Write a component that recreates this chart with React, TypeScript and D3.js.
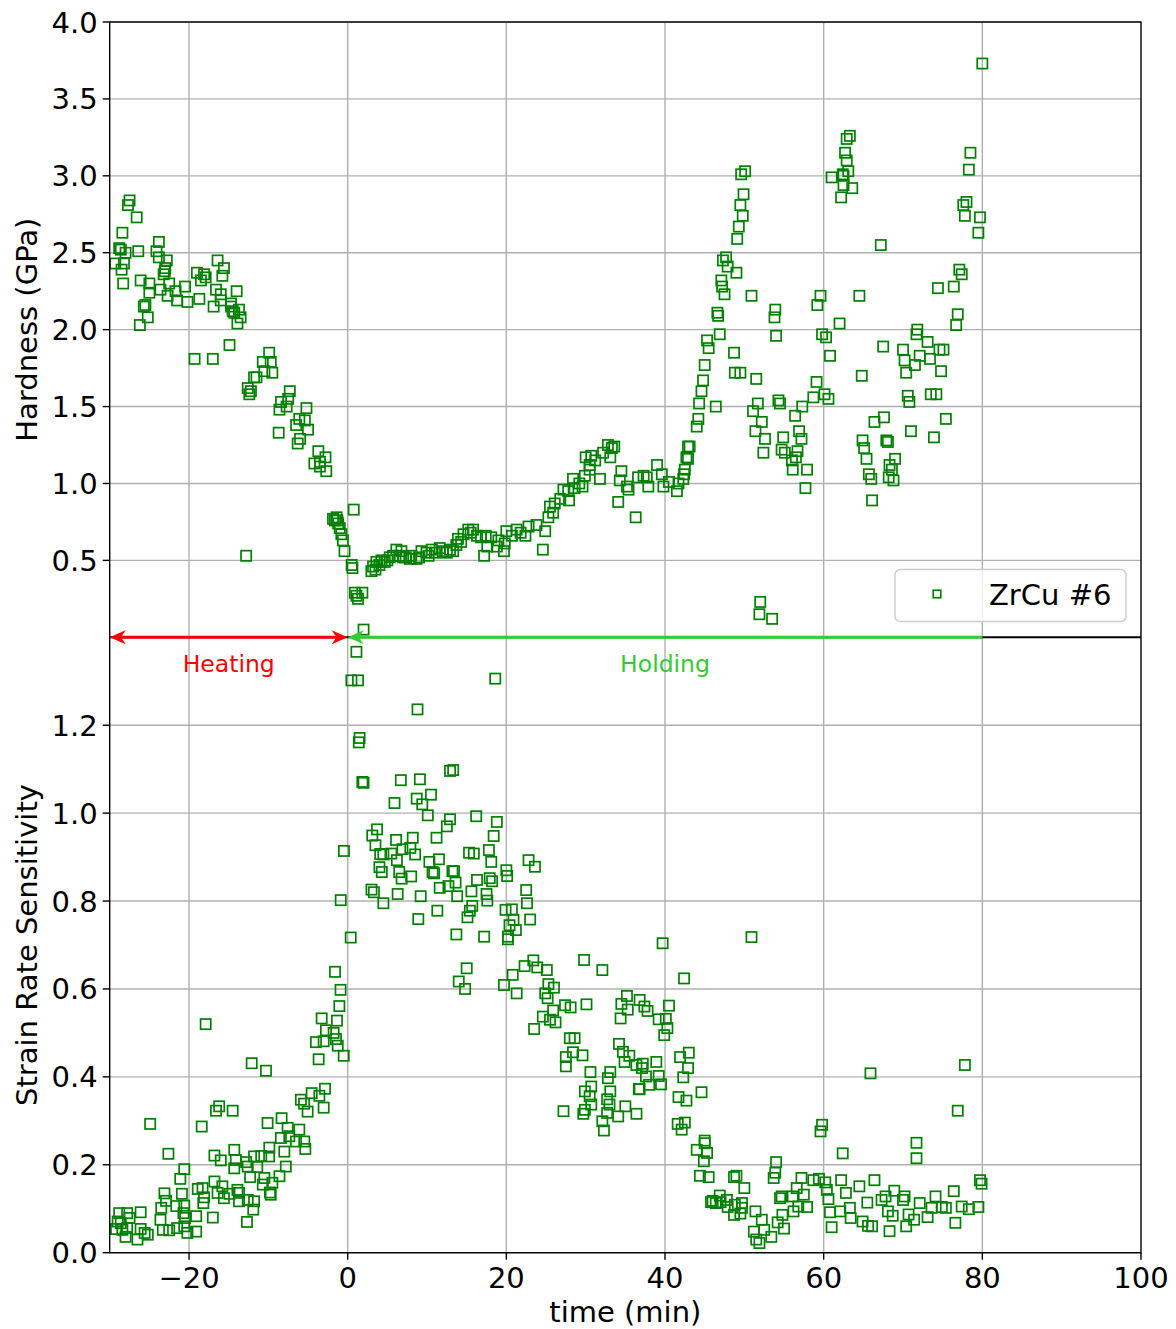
import React from "react";
import * as d3 from "d3";

// ---------- data ----------
const hardness: [number, number][] = [
  [-27.5,2.84],[-27.7,2.81],[-26.6,2.73],[-28.4,2.63],[-23.8,2.57],
  [-28.8,2.53],[-28.6,2.52],[-28.0,2.50],[-29.3,2.43],[-28.2,2.43],[-28.5,2.39],
  [-26.4,2.51],[-24.1,2.51],[-23.8,2.47],[-22.8,2.45],[-23.05,2.38],[-23.2,2.36],[-23.0,2.40],
  [-28.3,2.30],[-26.1,2.32],[-25.0,2.30],[-25.0,2.24],[-25.5,2.16],[-25.7,2.15],[-25.2,2.08],[-26.2,2.03],
  [-23.6,2.26],[-22.5,2.30],[-22.7,2.22],[-21.7,2.25],[-21.5,2.19],[-20.5,2.28],[-20.2,2.18],[-18.7,2.20],
  [-19.0,2.37],[-18.1,2.36],[-17.9,2.34],[-18.5,2.32],[-16.4,2.45],[-15.6,2.40],[-15.8,2.35],
  [-16.6,2.26],[-16.0,2.23],[-16.9,2.15],[-16.0,2.19],[-14.7,2.17],[-14.0,2.25],
  [-14.7,2.15],[-14.5,2.12],[-13.7,2.13],[-13.5,2.08],[-13.9,2.04],[-14.3,2.11],
  [-14.9,1.90],[-19.3,1.81],[-17.0,1.81],
  [-9.9,1.85],[-9.7,1.79],[-10.7,1.79],[-9.5,1.72],[-10.5,1.73],[-11.8,1.69],
  [-11.5,1.69],[-12.6,1.62],[-12.4,1.58],[-12.2,1.60],
  [-7.3,1.60],[-7.5,1.55],[-8.4,1.53],[-8.6,1.48],[-7.7,1.50],[-8.7,1.33],
  [-5.2,1.49],[-5.4,1.41],[-6.1,1.42],[-6.5,1.38],[-5.0,1.35],[-6.0,1.29],[-6.3,1.26],
  [-3.7,1.21],[-4.2,1.13],[-3.5,1.14],[-2.8,1.17],[-2.7,1.08],[-3.5,1.11],
  [-12.8,0.53],
  [-1.85,0.77],[-1.6,0.76],[-1.3,0.76],[-1.4,0.78],[-1.2,0.74],[-1.0,0.71],[-0.8,0.67],[-0.6,0.63],[-0.4,0.56],
  [0.76,0.83],[0.5,0.47],[0.6,0.45],[0.9,0.29],[1.1,0.27],[1.85,0.29],[1.3,0.25],[2.0,0.05],
  [2.99,0.43],[3.2,0.46],[3.62,0.49],[4.25,0.50],[4.67,0.49],[5.72,0.53],[6.14,0.57],[6.77,0.56],[6.98,0.52],
  [7.82,0.51],[8.67,0.51],[9.3,0.56],[9.93,0.55],[10.6,0.57],[11.6,0.58],[12.5,0.55],[13.3,0.56],[13.7,0.60],
  [13.9,0.64],[14.6,0.67],[15.2,0.70],[15.8,0.70],[16.3,0.66],[17.4,0.66],[17.6,0.59],[17.2,0.53],[18.1,0.65],
  [18.8,0.59],[19.8,0.61],[19.7,0.56],
  [3.5,0.44],[4.0,0.47],[5.0,0.50],[5.3,0.52],[6.5,0.53],[7.3,0.52],[8.0,0.53],[9.0,0.52],[10.2,0.53],
  [11.0,0.55],[12.0,0.56],[12.9,0.57],[14.3,0.62],[15.5,0.68],[16.8,0.65],[19.0,0.63],[20.7,0.66],[21.8,0.68],
  [20.0,0.69],[21.3,0.70],[22.4,0.66],[22.8,0.72],[23.8,0.73],[24.9,0.69],[24.6,0.57],[25.3,0.78],[25.5,0.85],
  [25.9,0.81],[26.1,0.87],[27.2,0.96],[27.9,0.89],[27.8,0.95],[28.4,1.03],[28.6,0.97],[29.6,0.98],[29.9,1.05],
  [30.0,1.17],[30.7,1.18],[30.5,1.12],[30.5,1.09],[31.8,1.03],[32.8,1.25],[33.3,1.23],[33.1,1.17],[34.1,0.88],
  [34.5,1.08],[34.3,1.02],[35.2,0.98],[35.4,0.96],[36.3,0.78],[36.6,1.04],[37.3,1.05],[37.9,0.98],[37.7,1.04],
  [39.0,1.12],[39.6,1.06],[39.8,0.98],[40.5,1.01],[41.5,0.95],[41.7,1.00],[42.3,1.03],[42.5,1.09],[42.9,1.16],
  [43.1,1.24],[44.0,1.37],[44.2,1.42],[44.3,1.52],
  [31.2,1.15],[32.2,1.20],[33.6,1.24],[29.2,1.00],[26.8,0.90],
  [42.9,1.24],[42.7,1.17],[42.4,1.06],
  [44.6,1.60],[44.8,1.67],[45.0,1.77],[45.3,1.93],[45.5,1.88],[46.4,1.50],[46.6,2.11],[46.7,2.09],[46.9,1.97],
  [47.1,2.32],[47.2,2.28],[47.5,2.23],[47.7,2.47],[47.3,2.45],[47.9,2.41],[49.0,2.37],[48.7,1.85],[48.8,1.72],
  [49.1,2.59],[49.3,2.67],[49.5,2.81],[49.8,2.74],[49.9,2.88],[49.6,3.01],[50.1,3.03],[50.9,2.22],[51.5,1.68],[49.5,1.72],
  [51.7,1.52],[51.1,1.47],[52.2,1.40],[51.4,1.34],[52.6,1.29],[52.4,1.20],[52.0,0.23],[51.9,0.15],[53.5,0.12],
  [53.9,2.13],[53.8,2.08],[54.0,1.96],[54.3,1.54],[54.5,1.52],[54.9,1.30],[54.7,1.22],[55.1,1.20],[56.4,1.44],
  [57.3,1.50],[56.9,1.34],[57.2,1.29],[56.7,1.21],[56.0,1.15],[56.5,1.17],[56.1,1.09],[57.9,1.09],[57.7,0.97],
  [59.1,1.66],[58.7,1.56],[60.1,1.58],[60.6,1.55],[59.6,2.22],[59.2,2.16],[59.8,1.97],[60.3,1.95],[60.8,1.83],[62.0,2.04],
  [61.0,2.99],[62.4,3.01],[62.5,2.94],[62.2,2.86],[62.7,3.15],[62.9,3.10],[63.3,3.26],[62.9,3.24],[63.1,3.03],[63.6,2.92],[62.5,3.00],
  [64.5,2.22],[64.8,1.70],[67.2,2.55],[67.5,1.89],
  [64.9,1.28],[65.1,1.23],[65.4,1.16],[65.7,1.06],[66.0,1.03],[66.1,0.89],[66.4,1.40],[67.6,1.43],[67.9,1.28],
  [68.1,1.27],[69.0,1.16],[68.3,1.12],[68.6,1.09],[68.2,1.04],[68.8,1.02],
  [70.0,1.87],[70.2,1.80],[70.4,1.72],[71.5,1.77],[71.8,2.00],[71.7,1.97],[72.1,1.83],[73.1,1.92],[73.4,1.81],
  [74.6,1.87],[75.1,1.87],[74.8,1.73],
  [70.6,1.57],[70.8,1.53],[73.5,1.58],[74.2,1.58],[75.4,1.42],[71.0,1.34],[73.9,1.30],
  [74.4,2.27],[76.4,2.28],[77.1,2.39],[77.4,2.36],[76.9,2.10],[76.7,2.03],
  [78.0,2.83],[77.6,2.81],[77.8,2.74],[79.7,2.73],[79.5,2.63],[78.5,3.15],[78.3,3.04],[80.0,3.73],
];

const strainRate: [number, number][] = [
  [-1.05,0.561],[-3.28,0.533],[-1.35,0.528],[-2.74,0.506],[-1.77,0.500],[-4.0,0.479],[-3.03,0.481],[-1.48,0.486],
  [-1.26,0.471],[-0.50,0.448],[-3.66,0.440],
  [-17.9,0.520],[-12.1,0.431],[-10.3,0.414],[-24.9,0.293],[-22.6,0.225],
  [-16.2,0.333],[-16.6,0.323],[-14.5,0.323],[-18.4,0.287],
  [-5.9,0.348],[-5.5,0.339],[-5.05,0.321],[-4.54,0.363],[-3.57,0.357],[-2.86,0.373],[-3.03,0.330],
  [-10.1,0.295],[-8.33,0.306],[-7.57,0.284],[-7.36,0.265],[-8.42,0.261],[-6.1,0.280],[-6.52,0.253],[-5.47,0.253],
  [-7.99,0.230],[-5.34,0.236],[-9.88,0.239],
  [-11.8,0.219],[-10.9,0.220],[-9.9,0.219],[-12.8,0.206],[-14.1,0.211],[-14.3,0.234],[-16.0,0.210],[-16.8,0.221],
  [-12.6,0.196],[-11.4,0.195],[-12.3,0.172],[-7.8,0.196],[-8.6,0.174],[-10.5,0.170],[-10.7,0.155],[-9.5,0.159],
  [-9.7,0.132],[-9.8,0.137],[-14.3,0.192],
  [-20.6,0.190],[-21.1,0.168],[-20.9,0.134],[-23.1,0.135],[-22.9,0.118],[-23.5,0.102],[-21.6,0.106],[-20.6,0.107],
  [-20.7,0.090],[-18.9,0.145],[-18.3,0.147],[-16.8,0.162],[-15.8,0.151],[-18.1,0.126],[-18.2,0.113],[-16.4,0.136],
  [-14.9,0.134],[-13.9,0.143],[-13.7,0.136],[-12.6,0.120],[-11.8,0.117],[-11.9,0.098],[-13.7,0.117],[-15.6,0.124],
  [-20.5,0.079],[-19.1,0.083],[-17.0,0.080],[-19.1,0.048],[-20.2,0.045],[-12.7,0.070],
  [-28.8,0.090],[-27.8,0.090],[-26.1,0.092],[-27.5,0.079],[-29.2,0.054],[-28.4,0.052],[-27.8,0.056],[-28.0,0.036],
  [-26.5,0.030],[-26.1,0.054],[-25.6,0.045],[-25.2,0.041],[-23.6,0.075],[-23.3,0.052],[-22.5,0.051],[-21.5,0.056],
  [-20.6,0.060],[-29.0,0.071],[-28.6,0.067],
  [-1.6,0.639],[-0.9,0.598],
  [1.1,1.367],[0.47,1.302],[1.3,1.302],[18.6,1.306],[8.8,1.236],[1.5,1.171],[1.4,1.161],[1.85,1.071],[2.0,1.069],
  [13.3,1.098],[12.9,1.096],
  [6.7,1.075],[9.1,1.077],[8.7,1.033],[10.5,1.042],[9.4,1.020],[5.9,1.023],[10.1,0.995],
  [-0.47,0.914],[-0.88,0.802],
  [3.7,0.963],[3.1,0.949],[3.5,0.927],[4.1,0.907],[6.1,0.939],[8.2,0.944],[7.9,0.921],[6.9,0.918],[8.5,0.906],
  [6.2,0.893],[5.5,0.908],[4.5,0.906],[4.0,0.877],[4.3,0.866],[6.5,0.866],[6.8,0.851],[8.0,0.856],[3.0,0.826],
  [3.3,0.820],[4.5,0.795],[6.3,0.816],[9.2,0.811],[8.9,0.759],[11.3,0.778],
  [10.3,0.889],[11.5,0.895],[10.7,0.866],[10.9,0.863],[11.2,0.944],[12.5,0.970],[12.9,0.986],[13.2,0.868],
  [13.4,0.868],[13.6,0.842],[12.7,0.834],[11.6,0.830],[15.3,0.910],[15.9,0.908],[16.2,0.993],[17.8,0.916],
  [18.1,0.889],[18.8,0.980],[18.4,0.948],[17.9,0.852],[18.2,0.845],[15.6,0.822],[16.3,0.848],[17.5,0.816],
  [17.6,0.801],[15.7,0.789],[15.4,0.778],[15.1,0.763],[13.7,0.724],[17.2,0.719],[13.8,0.811],
  [0.38,0.717],
  [20.2,0.719],[20.0,0.870],[20.1,0.857],[19.9,0.780],[20.7,0.781],[20.9,0.757],[21.2,0.734],[20.4,0.745],
  [22.5,0.825],[22.6,0.795],[23.0,0.758],[22.8,0.893],[23.6,0.878],[20.2,0.713],
  [15.0,0.647],[14.0,0.617],[14.8,0.600],
  [19.7,0.609],[20.8,0.632],[21.3,0.590],[22.3,0.652],[23.4,0.665],[23.9,0.649],[25.1,0.643],[25.3,0.611],
  [24.9,0.590],[26.0,0.603],[25.2,0.579],
  [29.8,0.666],[32.1,0.643],[39.7,0.704],[42.4,0.624],
  [24.6,0.537],[25.9,0.551],[26.2,0.524],[25.5,0.530],[23.5,0.509],[27.4,0.563],[28.1,0.558],[30.1,0.565],
  [28.0,0.488],[28.6,0.488],[28.4,0.456],[29.6,0.449],[27.5,0.445],[27.5,0.424],[30.6,0.411],[33.1,0.411],
  [32.8,0.397],[30.7,0.378],[29.9,0.367],[30.5,0.356],[30.7,0.337],[29.9,0.325],[29.7,0.316],[27.2,0.322],
  [32.7,0.349],[33.1,0.367],[33.0,0.337],[32.7,0.318],[32.1,0.299],[32.3,0.278],[34.1,0.310],[35.0,0.333],
  [36.4,0.316],[36.7,0.372],
  [34.5,0.566],[35.2,0.584],[35.3,0.553],[34.4,0.533],[36.8,0.575],[37.4,0.560],[37.8,0.550],[39.2,0.531],
  [40.1,0.532],[40.3,0.511],[39.9,0.495],[40.5,0.562],[34.2,0.475],[34.7,0.457],[35.5,0.448],[34.9,0.434],
  [36.4,0.427],[37.2,0.430],[38.9,0.434],[37.1,0.420],[37.6,0.401],[38.0,0.382],[39.2,0.402],[39.5,0.383],[36.8,0.372],
  [41.9,0.445],[43.0,0.455],[42.9,0.420],[42.3,0.399],[44.6,0.365],[41.7,0.354],[42.7,0.346],[41.6,0.293],
  [42.5,0.296],[42.1,0.280],[45.0,0.255],
  [45.0,0.249],[44.0,0.234],[45.3,0.227],[44.9,0.208],[44.4,0.175],[45.5,0.172],
  [49.0,0.175],[48.7,0.172],[50.0,0.147],[46.9,0.130],[46.4,0.113],[47.8,0.120],[47.9,0.104],[48.8,0.109],
  [48.7,0.086],[49.7,0.113],[49.7,0.102],[49.5,0.089],[45.8,0.115],[46.0,0.118],[47.0,0.115],
  [50.9,0.718],
  [54.0,0.206],[53.9,0.182],[53.7,0.170],[51.4,0.094],[52.2,0.075],[51.2,0.048],[51.5,0.030],[52.5,0.052],
  [53.4,0.036],[51.9,0.022],[55.0,0.055],[54.2,0.069],[54.8,0.086],[54.5,0.124],[54.7,0.128],[56.1,0.128],
  [56.6,0.147],[57.2,0.170],[57.5,0.132],[57.9,0.104],[56.8,0.105],[56.2,0.094],
  [58.7,0.165],[59.4,0.168],[60.2,0.160],[60.4,0.143],[60.6,0.122],[60.8,0.092],[61.0,0.058],[62.1,0.094],
  [62.2,0.165],[62.8,0.136],[63.3,0.102],[63.4,0.079],[64.5,0.151],[64.9,0.071],[65.6,0.061],[66.1,0.060],
  [65.5,0.114],[66.4,0.165],[67.3,0.120],[67.8,0.128],[68.3,0.049],[68.1,0.094],[68.7,0.084],[68.9,0.141],
  [70.2,0.128],[70.0,0.120],[70.4,0.060],[70.7,0.087],[71.4,0.075],[72.1,0.113],[73.1,0.081],[73.6,0.102],
  [74.1,0.128],[74.9,0.104],[75.4,0.102],[76.6,0.068],[76.4,0.140],[77.4,0.105],[78.3,0.099],[79.5,0.104],
  [79.7,0.165],[79.9,0.157],
  [71.7,0.250],[71.7,0.215],[76.9,0.323],[77.8,0.427],[65.9,0.408],[62.4,0.226],[59.8,0.291],[59.6,0.276],
];

const xTicks = [-20, 0, 20, 40, 60, 80, 100];
const hardTicks = [0.5, 1.0, 1.5, 2.0, 2.5, 3.0, 3.5, 4.0];
const srsTicks = [0.0, 0.2, 0.4, 0.6, 0.8, 1.0, 1.2];
const heatingSpan = [-30, 0];
const holdingSpan = [80, 0];
const seriesLabel = "ZrCu #6";

// ---------- layout ----------
const FONT = "DejaVu Sans, sans-serif";
const left = 109.7, right = 1141, top = 22, mid = 637.3, bottom = 1252.7;
const GREEN = "#008000";
const HOLD = "#33cc33";
const GRID = "#b0b0b0";

export default function App() {
  const x = d3.scaleLinear().domain([-30, 100]).range([left, right]);
  const yH = d3.scaleLinear().domain([0, 4]).range([mid, top]);
  const yS = d3.scaleLinear().domain([0, 1.4]).range([bottom, mid]);
  const m = 10.2;
  const fmt = d3.format(".1f");
  const fmtX = (v: number) => (v < 0 ? "\u2212" + Math.abs(v) : String(v));

  const sq = (cx: number, cy: number, k: string, s = m) => (
    <rect key={k} x={cx - s / 2} y={cy - s / 2} width={s} height={s} fill="none" stroke={GREEN} strokeWidth={1.7} />
  );

  const ay = yH(0);
  const hx0 = x(heatingSpan[0]), hx1 = x(heatingSpan[1]);
  const gx0 = x(holdingSpan[0]), gx1 = x(holdingSpan[1]);
  const head = 16, hw = 7;

  return (
    <svg width={1176} height={1329} style={{ display: "block", marginTop: -8, marginLeft: -8 }} fontFamily={FONT}>
      <rect width={1176} height={1329} fill="white" />
      {/* grid */}
      {xTicks.filter(t => t < 100).map(t => (
        <line key={"gx" + t} x1={x(t)} x2={x(t)} y1={top} y2={bottom} stroke={GRID} strokeWidth={1.4} />
      ))}
      {hardTicks.map(t => (
        <line key={"gh" + t} x1={left} x2={right} y1={yH(t)} y2={yH(t)} stroke={GRID} strokeWidth={1.4} />
      ))}
      {srsTicks.map(t => (
        <line key={"gs" + t} x1={left} x2={right} y1={yS(t)} y2={yS(t)} stroke={GRID} strokeWidth={1.4} />
      ))}
      {/* points */}
      {hardness.map((d, i) => sq(x(d[0]), yH(d[1]), "h" + i))}
      {strainRate.map((d, i) => sq(x(d[0]), yS(d[1]), "s" + i))}
      {/* spines */}
      <rect x={left} y={top} width={right - left} height={bottom - top} fill="none" stroke="black" strokeWidth={1.4} />
      <line x1={left} x2={right} y1={mid} y2={mid} stroke="black" strokeWidth={2} />
      {/* ticks */}
      {xTicks.map(t => (
        <g key={"tx" + t}>
          <line x1={x(t)} x2={x(t)} y1={bottom} y2={bottom + 7} stroke="black" strokeWidth={1.4} />
          <text x={x(t)} y={bottom + 35} textAnchor="middle" fontSize={29}>{fmtX(t)}</text>
        </g>
      ))}
      {hardTicks.map(t => (
        <g key={"th" + t}>
          <line x1={left - 7} x2={left} y1={yH(t)} y2={yH(t)} stroke="black" strokeWidth={1.4} />
          <text x={left - 12} y={yH(t) + 10.5} textAnchor="end" fontSize={29}>{fmt(t)}</text>
        </g>
      ))}
      {srsTicks.map(t => (
        <g key={"ts" + t}>
          <line x1={left - 7} x2={left} y1={yS(t)} y2={yS(t)} stroke="black" strokeWidth={1.4} />
          <text x={left - 12} y={yS(t) + 10.5} textAnchor="end" fontSize={29}>{fmt(t)}</text>
        </g>
      ))}
      {/* axis labels */}
      <text x={(left + right) / 2} y={1322} textAnchor="middle" fontSize={29}>time (min)</text>
      <text transform={`translate(37,${(top + mid) / 2}) rotate(-90)`} textAnchor="middle" fontSize={29}>Hardness (GPa)</text>
      <text transform={`translate(37,${(mid + bottom) / 2}) rotate(-90)`} textAnchor="middle" fontSize={29}>Strain Rate Sensitivity</text>
      {/* arrows */}
      <line x1={gx0} x2={gx1 + 6} y1={ay} y2={ay} stroke={HOLD} strokeWidth={3} />
      <path d={`M${gx1},${ay} L${gx1 + head},${ay - hw} L${gx1 + head * 0.7},${ay} L${gx1 + head},${ay + hw} Z`} fill={HOLD} />
      <line x1={hx0 + 6} x2={hx1 - 6} y1={ay} y2={ay} stroke="red" strokeWidth={3} />
      <path d={`M${hx0},${ay} L${hx0 + head},${ay - hw} L${hx0 + head * 0.7},${ay} L${hx0 + head},${ay + hw} Z`} fill="red" />
      <path d={`M${hx1},${ay} L${hx1 - head},${ay - hw} L${hx1 - head * 0.7},${ay} L${hx1 - head},${ay + hw} Z`} fill="red" />
      <text x={x((heatingSpan[0] + heatingSpan[1]) / 2)} y={672} textAnchor="middle" fontSize={23.5} fill="red">Heating</text>
      <text x={x((holdingSpan[0] + holdingSpan[1]) / 2)} y={672} textAnchor="middle" fontSize={23.5} fill={HOLD}>Holding</text>
      {/* legend */}
      <rect x={895} y={569.5} width={231} height={52} rx={5} fill="white" fillOpacity={0.8} stroke="#cccccc" strokeWidth={1.4} />
      {sq(937, 594, "leg", 7.5)}
      <text x={989} y={604.5} fontSize={29}>{seriesLabel}</text>
    </svg>
  );
}
